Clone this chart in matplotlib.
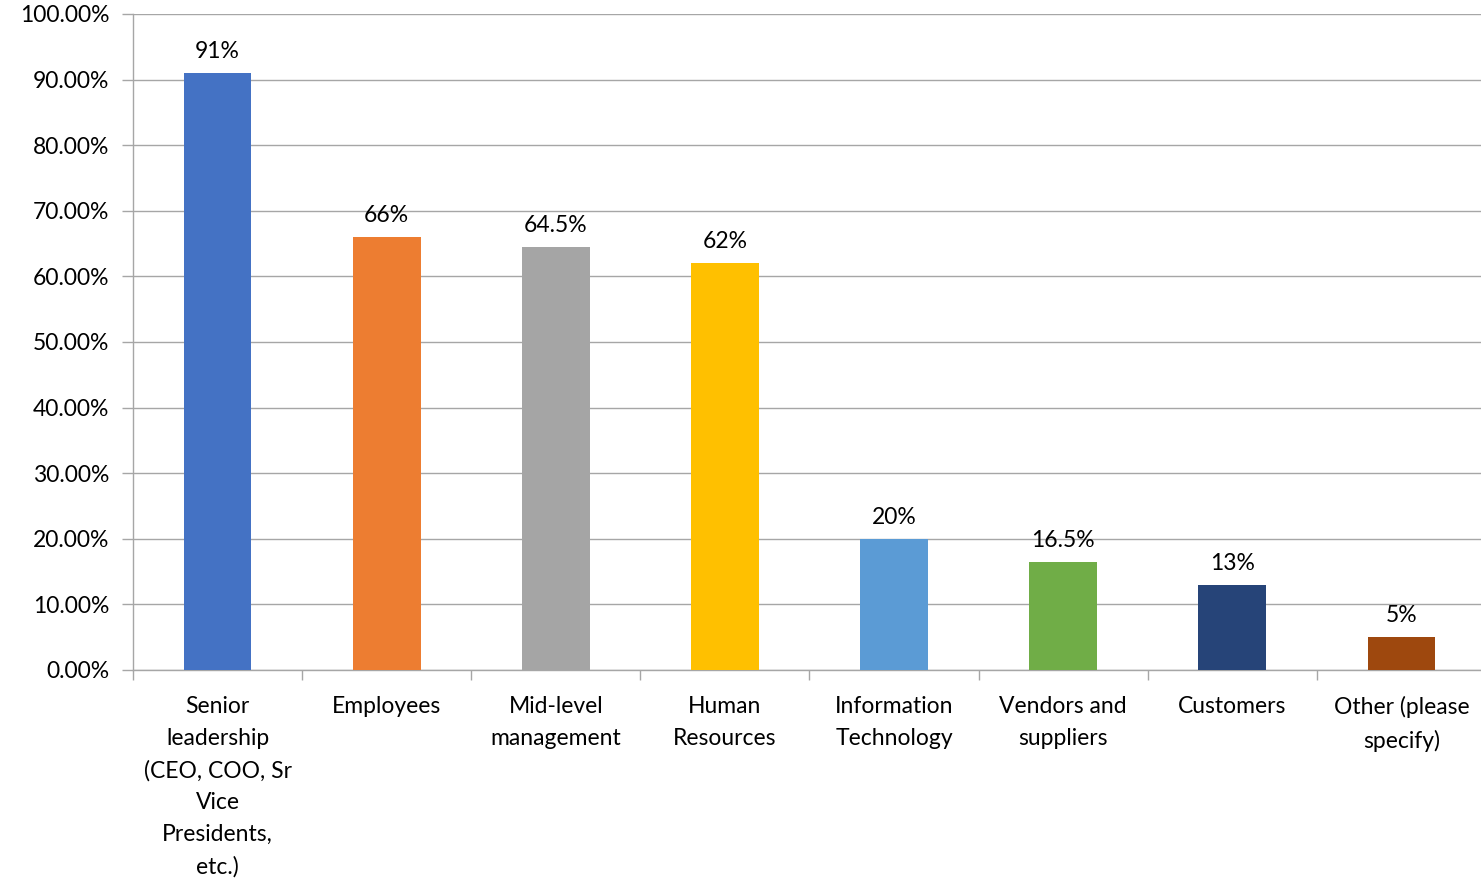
import matplotlib
matplotlib.use("Agg")
import matplotlib.pyplot as plt
import numpy as np

categories = [
    "Senior\nleadership\n(CEO, COO, Sr\nVice\nPresidents,\netc.)",
    "Employees",
    "Mid-level\nmanagement",
    "Human\nResources",
    "Information\nTechnology",
    "Vendors and\nsuppliers",
    "Customers",
    "Other (please\nspecify)",
]
values = [91, 66, 64.5, 62, 20, 16.5, 13, 5]
value_labels = ["91%", "66%", "64.5%", "62%", "20%", "16.5%", "13%", "5%"]
colors = ["#4472C4", "#ED7D31", "#A5A5A5", "#FFC000",
          "#5B9BD5", "#70AD47", "#264478", "#9E480E"]
y_ticks = np.arange(0, 101, 10)
y_tick_labels = [f"{v:.2f}%" for v in y_ticks]

plt.rcParams["font.family"] = ["Lato", "DejaVu Sans"]
FS = 16.5

W, H = 1481, 883
fig = plt.figure(figsize=(W / 100, H / 100), dpi=100)
left, right, bottom, top = 133, 1486, 670, 14
ax = fig.add_axes([left / W, 1 - bottom / H, (right - left) / W, (bottom - top) / H])

x = np.arange(len(categories))
bars = ax.bar(x, values, width=0.4, color=colors, zorder=3)

for xi, v, lab in zip(x, values, value_labels):
    ax.annotate(lab, (xi, v), xytext=(0, 8), textcoords="offset points",
                ha="center", va="bottom", fontsize=FS, color="#000000")

ax.set_xlim(-0.5, len(categories) - 0.5)
ax.set_ylim(0, 100)
ax.set_yticks(y_ticks)
ax.set_yticklabels(y_tick_labels, fontsize=FS)

ax.set_xticks(x)
ax.set_xticklabels(categories, fontsize=FS, linespacing=1.63, va="top")
ax.tick_params(axis="x", length=0, pad=19)
ax.set_xticks(np.arange(-0.5, len(categories), 1), minor=True)
ax.tick_params(axis="x", which="minor", length=7, color="#A6A6A6", width=1)
ax.tick_params(axis="y", length=8, color="#A6A6A6", width=1, pad=9)

ax.grid(axis="y", color="#A6A6A6", linewidth=1, zorder=0)
for s in ["top", "right"]:
    ax.spines[s].set_visible(False)
for s in ["left", "bottom"]:
    ax.spines[s].set_color("#A6A6A6")
    ax.spines[s].set_linewidth(1)

fig.savefig("out.png", dpi=100, facecolor="white")
